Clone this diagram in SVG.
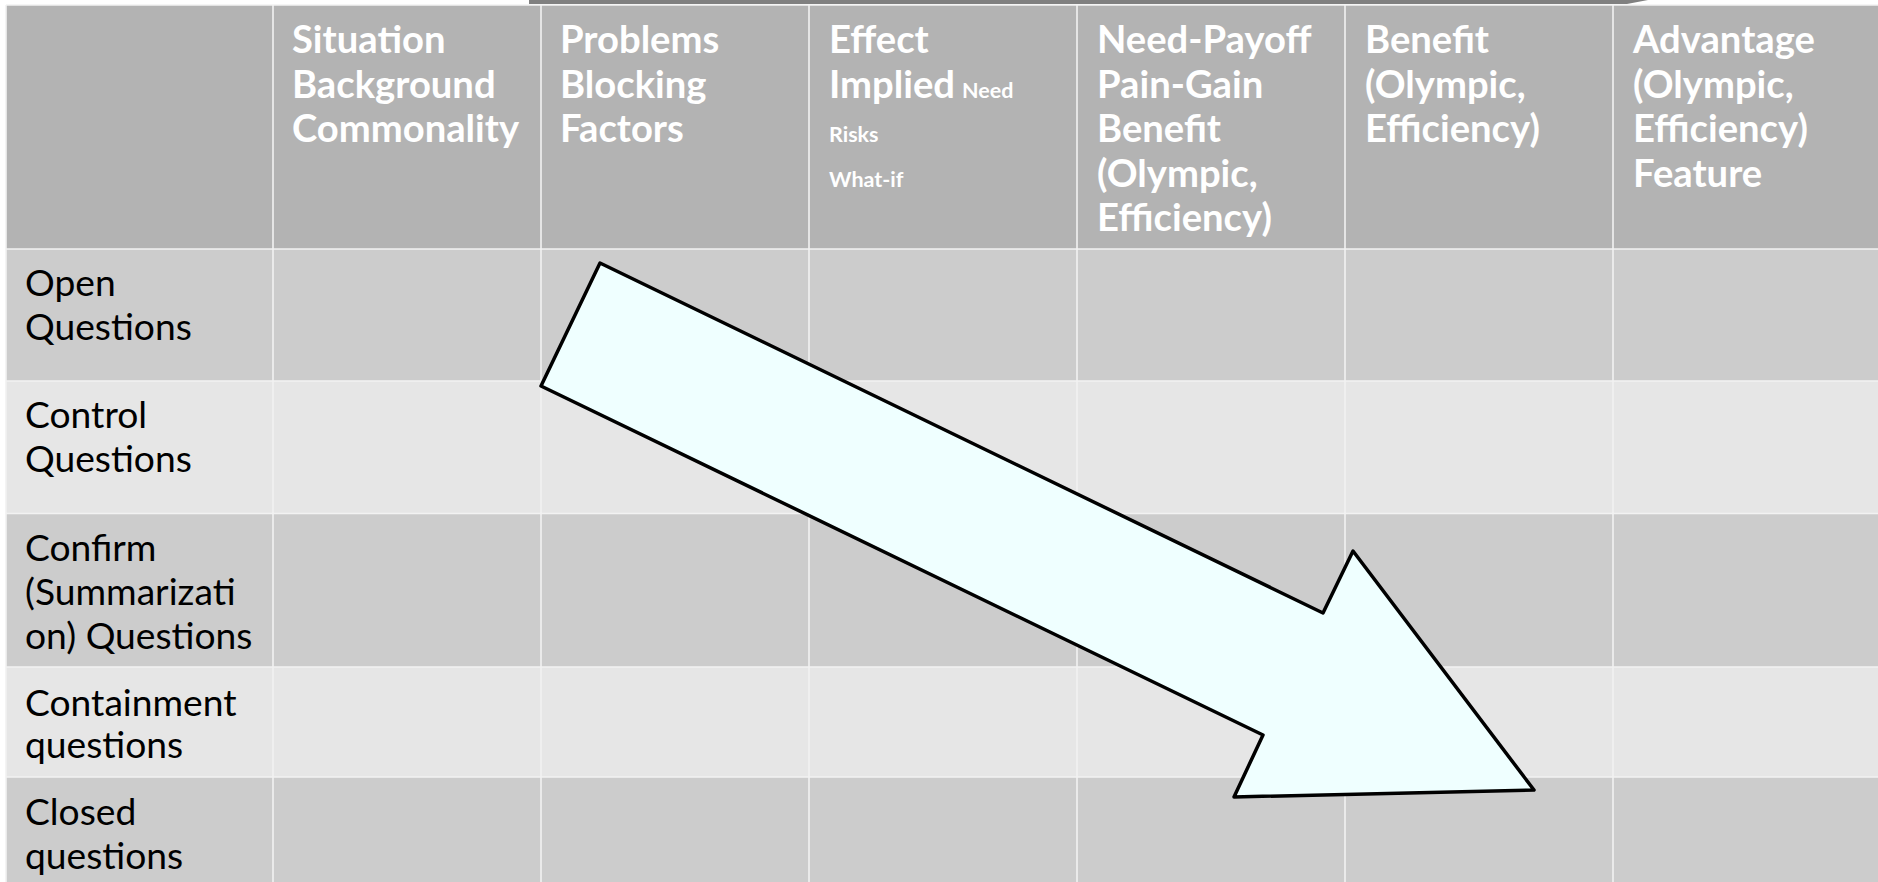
<svg xmlns="http://www.w3.org/2000/svg" width="1878" height="882" viewBox="0 0 1878 882">
<style>
.hdr{fill:#b3b3b3}
.odd{fill:#cccccc}
.even{fill:#e6e6e6}
.grid{stroke:#f2f2f2;stroke-width:1.6;fill:none}
.ht{font-family:Lato,"Open Sans",sans-serif;font-weight:bold;font-size:38.2px;fill:#ffffff}
.hs{font-size:21.5px}
.rt{font-family:Lato,"Open Sans",sans-serif;font-size:37.2px;fill:#000000}
</style>
<rect x="0" y="0" width="1878" height="882" fill="#ffffff"/>
<polygon points="529,0 529,4 1627,4 1648,0" fill="#808080"/>
<g id="table">
<rect class="hdr" x="6" y="5" width="1872" height="244"/>
<rect class="odd" x="6" y="249" width="1872" height="132"/>
<rect class="even" x="6" y="381" width="1872" height="132.5"/>
<rect class="odd" x="6" y="513.5" width="1872" height="153.5"/>
<rect class="even" x="6" y="667" width="1872" height="110"/>
<rect class="odd" x="6" y="777" width="1872" height="105"/>
<path class="grid" d="M6,5H1878M6,249H1878M6,381H1878M6,513.5H1878M6,667H1878M6,777H1878M6,5V882M273,5V882M541,5V882M809,5V882M1077,5V882M1345,5V882M1613,5V882"/>
</g>
<g id="header-situation">
<text class="ht" x="292" y="53">Situation</text>
<text class="ht" x="292" y="97.6">Background</text>
<text class="ht" x="292" y="142.2">Commonality</text>
</g>
<g id="header-problems">
<text class="ht" x="560" y="53">Problems</text>
<text class="ht" x="560" y="97.6">Blocking</text>
<text class="ht" x="560" y="142.2">Factors</text>
</g>
<g id="header-effect">
<text class="ht" x="829" y="53">Effect</text>
<text class="ht" x="829" y="97.6">Implied<tspan class="hs" x="962">Need</tspan></text>
<text class="ht hs" x="829" y="141.5">Risks</text>
<text class="ht hs" x="829" y="186.5">What-if</text>
</g>
<g id="header-needpayoff">
<text class="ht" x="1097" y="53">Need-Payoff</text>
<text class="ht" x="1097" y="97.6">Pain-Gain</text>
<text class="ht" x="1097" y="142.2">Benefit</text>
<text class="ht" x="1097" y="186.8">(Olympic,</text>
<text class="ht" x="1097" y="231.4">Efficiency)</text>
</g>
<g id="header-benefit">
<text class="ht" x="1365" y="53">Benefit</text>
<text class="ht" x="1365" y="97.6">(Olympic,</text>
<text class="ht" x="1365" y="142.2">Efficiency)</text>
</g>
<g id="header-advantage">
<text class="ht" x="1633" y="53">Advantage</text>
<text class="ht" x="1633" y="97.6">(Olympic,</text>
<text class="ht" x="1633" y="142.2">Efficiency)</text>
<text class="ht" x="1633" y="186.8">Feature</text>
</g>
<g id="row-open">
<text class="rt" x="25" y="296">Open</text>
<text class="rt" x="25" y="340">Questions</text>
</g>
<g id="row-control">
<text class="rt" x="25" y="428">Control</text>
<text class="rt" x="25" y="472">Questions</text>
</g>
<g id="row-confirm">
<text class="rt" x="25" y="561">Confirm</text>
<text class="rt" x="25" y="605">(Summarizati</text>
<text class="rt" x="25" y="649">on) Questions</text>
</g>
<g id="row-containment">
<text class="rt" x="25" y="716">Containment</text>
<text class="rt" x="25" y="758">questions</text>
</g>
<g id="row-closed">
<text class="rt" x="25" y="825">Closed</text>
<text class="rt" x="25" y="869">questions</text>
</g>
<g id="connectors">
<polygon id="big-arrow" points="600,263 1323,613 1353,551 1534,790 1234,797 1263,735 541,386" fill="#efffff" stroke="#000000" stroke-width="3.5" stroke-linejoin="round"/>
</g>
</svg>
